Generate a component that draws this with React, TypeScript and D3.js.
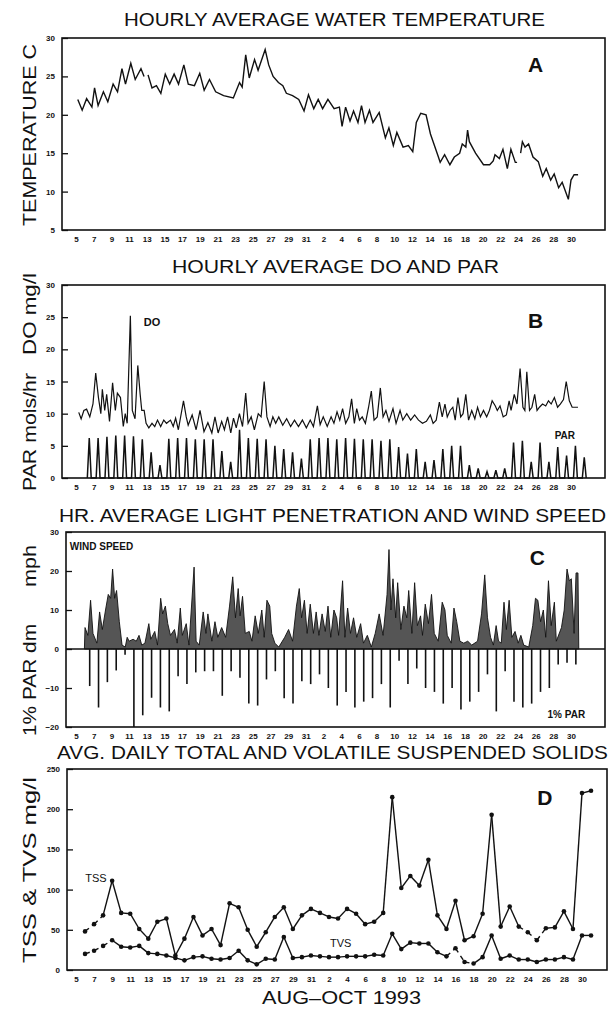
import React, { useEffect, useRef } from "react";
import * as d3 from "d3";

// days are counted as day of August (Sep 2 = 33, Oct 1 = 62)
const dayTicks = [5, 7, 9, 11, 13, 15, 17, 19, 21, 23, 25, 27, 29, 31, 33, 35, 37, 39, 41, 43, 45, 47, 49, 51, 53, 55, 57, 59, 61];

// A - hourly water temperature (NaN = gap in record)
const tempDay = [5.2, 5.7, 6.2, 6.8, 7.1, 7.5, 8.1, 8.6, 9.2, 9.7, 10.2, 10.6, 11.2, 11.7, 12.35, 12.7, 12.9, 13.15, 13.6, 14.1, 14.6, 15.1, 15.6, 16.1, 16.6, 17.2, 17.7, 18.4, 19.0, 19.5, 20.1, 20.8, 21.7, 22.8, 23.5, 23.8, 24.2, 24.6, 25.2, 25.6, 26.4, 26.8, 27.3, 27.9, 28.4, 28.8, 29.5, 30.2, 30.8, 31.3, 31.9, 32.4, 32.9, 33.5, 34.2, 34.8, 35.1, 35.5, 36.0, 36.4, 36.9, 37.3, 37.7, 38.2, 38.6, 39.3, 40.0, 40.4, 40.9, 41.3, 42.0, 42.6, 43.1, 43.5, 44.0, 44.6, 45.1, 46.0, 46.2, 46.7, 47.3, 47.8, 48.4, 48.7, 49.1, 49.3, 49.5, 50.2, 51.1, 51.8, 52.2, 52.4, 52.9, 53.3, 53.8, 54.2, 54.7, 54.9, 55.1, 55.3, 55.5, 55.8, 56.2, 56.7, 57.3, 57.8, 58.2, 58.7, 59.1, 59.6, 60.0, 60.7, 61.0, 61.35, 61.8];
const tempC = [22.0, 20.6, 22.1, 21.0, 23.5, 21.2, 23.0, 21.7, 24.0, 23.0, 26.0, 24.0, 26.7, 24.6, 26.0, 25.0, NaN, 25.2, 23.5, 23.8, 22.8, 25.3, 24.0, 25.3, 24.0, 26.5, 24.0, 23.8, 25.4, 23.2, 24.6, 23.0, 22.5, 22.2, 24.2, 23.6, 27.8, 24.8, 27.2, 25.8, 28.5, 26.5, 25.0, 24.2, 23.8, 22.8, 22.5, 22.0, 20.5, 22.6, 20.8, 22.0, 20.8, 22.0, 20.8, 21.0, 18.5, 21.0, 19.2, 20.5, 19.0, 21.2, 19.0, 20.6, 19.0, 20.3, 17.0, 18.3, 16.0, 17.7, 15.8, 16.0, 15.2, 19.0, 20.2, 20.0, 17.5, 14.5, 13.8, 14.8, 13.5, 14.5, 15.0, 16.2, 15.8, 18.0, 16.5, 15.0, 13.5, 13.5, 14.0, 14.8, 14.3, 15.5, 13.0, 15.5, 13.8, 13.8, NaN, 15.0, 16.5, 15.8, 16.2, 14.5, 13.9, 12.0, 13.0, 11.5, 12.3, 10.5, 11.2, 9.0, 11.5, 12.2, 12.2];

// B - hourly DO
const doDay = [5.31, 5.58, 5.89, 6.2, 6.56, 6.92, 7.23, 7.54, 7.81, 7.98, 8.25, 8.47, 8.79, 9.14, 9.45, 9.68, 10.03, 10.35, 10.57, 10.79, 11.15, 11.37, 11.68, 11.99, 12.26, 12.44, 12.71, 12.93, 13.24, 13.6, 13.91, 14.22, 14.58, 14.93, 15.24, 15.69, 16.0, 16.27, 16.58, 17.16, 17.47, 17.69, 18.14, 18.59, 19.03, 19.48, 19.92, 20.37, 20.72, 21.08, 21.48, 21.79, 22.15, 22.51, 22.82, 23.13, 23.49, 23.84, 24.2, 24.47, 24.82, 25.18, 25.62, 25.94, 26.29, 26.6, 26.96, 27.27, 27.59, 27.94, 28.39, 28.83, 29.28, 29.72, 30.17, 30.61, 31.06, 31.5, 31.86, 32.31, 32.62, 32.97, 33.42, 33.86, 34.18, 34.53, 34.84, 35.16, 35.51, 35.87, 36.18, 36.49, 36.76, 37.07, 37.38, 37.74, 38.1, 38.41, 38.72, 39.08, 39.43, 39.74, 40.06, 40.41, 40.86, 41.21, 41.66, 41.97, 42.42, 42.86, 43.31, 43.75, 44.2, 44.64, 45.09, 45.4, 45.75, 46.11, 46.43, 46.74, 47.0, 47.32, 47.63, 47.9, 48.21, 48.52, 48.79, 49.1, 49.41, 49.77, 50.12, 50.43, 50.75, 51.1, 51.46, 51.77, 52.08, 52.44, 52.66, 52.97, 53.33, 53.69, 54.0, 54.22, 54.58, 54.89, 55.24, 55.56, 55.78, 56.0, 56.31, 56.58, 56.89, 57.16, 57.43, 57.78, 58.14, 58.45, 58.76, 59.12, 59.48, 59.79, 60.15, 60.46, 60.81, 61.13, 61.79];
const doMg = [10.2, 9.2, 10.5, 10.7, 9.5, 11.5, 16.3, 12.5, 10.0, 13.8, 10.5, 13.0, 8.8, 14.8, 10.5, 13.2, 12.5, 8.0, 10.0, 8.5, 25.2, 10.5, 9.2, 17.5, 13.0, 10.5, 10.5, 8.5, 7.8, 8.5, 8.0, 9.0, 8.0, 9.0, 8.5, 9.0, 8.0, 9.3, 7.5, 12.0, 9.5, 8.2, 9.8, 7.5, 10.5, 7.2, 8.6, 7.0, 9.5, 7.0, 8.8, 7.5, 9.5, 7.0, 9.3, 7.8, 10.0, 8.0, 13.2, 8.5, 9.5, 7.5, 10.0, 9.5, 15.0, 9.5, 8.0, 9.5, 8.5, 9.5, 8.2, 9.2, 8.0, 9.0, 8.0, 9.0, 7.8, 9.0, 8.0, 11.2, 8.3, 9.5, 8.0, 9.5, 8.5, 10.3, 9.0, 10.8, 8.5, 9.5, 12.3, 8.5, 10.8, 9.0, 9.5, 8.5, 11.0, 13.5, 9.0, 9.5, 14.0, 9.5, 10.5, 8.8, 10.8, 8.5, 10.5, 9.0, 10.0, 9.0, 9.8, 9.0, 8.5, 8.8, 9.8, 8.5, 9.0, 11.8, 9.5, 11.5, 9.5, 10.5, 11.0, 9.0, 12.5, 9.5, 10.0, 13.0, 9.0, 10.5, 9.2, 11.0, 9.5, 10.5, 9.5, 10.5, 12.0, 11.2, 10.5, 11.2, 9.5, 9.8, 12.0, 10.5, 13.0, 11.5, 17.0, 11.0, 10.5, 16.5, 10.5, 11.0, 13.0, 10.5, 11.0, 11.5, 11.2, 12.0, 11.5, 12.5, 11.0, 11.5, 12.2, 15.0, 12.0, 11.0, 11.0];

// B - daily PAR peaks (mols/hr)
const parDay = [6, 7, 8, 9, 10, 11, 12, 13, 14, 15, 16, 17, 18, 19, 20, 21, 22, 23, 24, 25, 26, 27, 28, 29, 30, 31, 32, 33, 34, 35, 36, 37, 38, 39, 40, 41, 42, 43, 44, 45, 46, 47, 48, 49, 50, 51, 52, 53, 54, 55, 56, 57, 58, 59, 60, 61, 62];
const parMols = [6.2, 6.2, 6.4, 6.6, 6.6, 6.5, 6.0, 4.0, 2.0, 6.1, 6.2, 6.2, 6.0, 6.0, 6.0, 4.2, 2.5, 7.5, 6.2, 6.1, 6.0, 5.0, 4.5, 4.0, 3.0, 6.0, 6.2, 6.2, 6.0, 6.2, 6.1, 6.0, 6.0, 5.8, 6.0, 4.8, 3.8, 4.5, 2.5, 2.8, 4.5, 5.0, 5.0, 2.0, 1.5, 1.0, 1.2, 1.5, 5.5, 5.8, 2.5, 5.5, 2.5, 4.8, 3.5, 5.0, 3.2];

// C - hourly wind speed
const windDay = [5.95, 6.02, 6.34, 6.65, 6.92, 7.36, 7.67, 7.98, 8.34, 8.65, 8.92, 9.14, 9.37, 9.59, 9.9, 10.21, 10.57, 10.79, 11.01, 11.46, 11.82, 12.13, 12.44, 12.8, 13.24, 13.46, 13.91, 14.22, 14.58, 14.8, 15.11, 15.38, 15.69, 16.14, 16.45, 16.8, 17.03, 17.47, 17.78, 18.36, 18.59, 18.94, 19.39, 19.7, 19.92, 20.37, 20.72, 21.04, 21.48, 21.93, 22.37, 22.73, 23.04, 23.35, 23.57, 23.84, 24.15, 24.6, 24.91, 25.27, 25.62, 26.02, 26.29, 26.6, 26.92, 27.14, 27.5, 27.94, 28.61, 29.05, 29.5, 29.94, 30.26, 30.52, 30.84, 31.15, 31.5, 31.86, 32.17, 32.48, 32.84, 33.2, 33.51, 33.82, 34.18, 34.49, 34.71, 35.16, 35.42, 35.73, 36.05, 36.4, 36.76, 37.2, 37.52, 37.96, 38.41, 38.85, 39.3, 39.74, 40.19, 40.41, 40.63, 40.86, 41.17, 41.39, 41.75, 42.1, 42.42, 42.64, 43.0, 43.31, 43.62, 43.98, 44.2, 44.51, 44.87, 45.22, 45.53, 45.98, 46.43, 46.74, 47.0, 47.45, 47.76, 48.07, 48.43, 48.87, 49.32, 49.77, 50.43, 50.88, 51.24, 51.55, 51.9, 52.22, 52.53, 52.8, 53.11, 53.42, 53.69, 54.0, 54.31, 54.67, 55.02, 55.33, 55.65, 56.22, 56.67, 56.98, 57.25, 57.56, 57.87, 58.14, 58.45, 58.76, 59.12, 59.34, 59.92, 60.23, 60.55, 60.81, 61.04, 61.35, 61.57, 61.79, 61.88];
const windMph = [0, 5.5, 3.5, 12.5, 4.0, 1.5, 9.5, 5.0, 10.0, 14.0, 13.0, 20.5, 13.0, 15.0, 7.0, 1.0, 0.5, 3.0, 2.0, 2.5, 2.0, 3.5, 1.0, 1.5, 6.5, 2.5, 4.5, 1.0, 13.0, 9.0, 11.0, 6.5, 3.5, 5.0, 1.5, 10.5, 3.5, 6.5, 1.0, 21.0, 2.0, 1.0, 9.5, 4.0, 9.0, 2.0, 7.0, 3.0, 5.5, 3.0, 11.0, 18.5, 8.0, 15.5, 8.5, 13.5, 4.0, 4.5, 2.0, 8.5, 4.0, 10.0, 3.0, 12.5, 11.0, 4.0, 1.5, 0.5, 3.0, 5.0, 2.0, 11.0, 15.5, 8.0, 12.5, 4.0, 11.5, 4.0, 9.5, 3.5, 9.0, 4.5, 11.0, 3.0, 10.0, 8.0, 3.5, 17.5, 3.0, 10.5, 4.0, 8.0, 3.0, 6.5, 1.5, 3.5, 0.5, 4.0, 9.0, 3.5, 14.0, 25.5, 10.0, 18.0, 8.0, 17.0, 5.0, 11.0, 8.0, 15.0, 4.0, 17.0, 6.0, 8.5, 3.5, 11.5, 6.5, 14.0, 4.0, 2.0, 12.0, 10.0, 3.5, 1.5, 10.5, 7.0, 2.0, 1.5, 2.0, 1.0, 2.0, 9.0, 19.0, 8.0, 3.0, 1.0, 6.0, 2.0, 1.5, 12.0, 5.0, 12.5, 3.0, 4.5, 1.5, 3.5, 1.0, 0.5, 6.0, 13.0, 12.5, 7.0, 10.0, 3.0, 17.5, 6.0, 12.0, 2.0, 5.5, 10.0, 20.5, 17.5, 18.0, 4.0, 19.5, 19.5, 0];

// C - daily 1% PAR depth (dm, plotted downward)
const pctParDay = [6, 7, 8, 9, 10, 11, 12, 13, 14, 15, 16, 17, 18, 19, 20, 21, 22, 23, 24, 25, 26, 27, 28, 29, 30, 31, 32, 33, 34, 35, 36, 37, 38, 39, 40, 41, 42, 43, 44, 45, 46, 47, 48, 49, 50, 51, 52, 53, 54, 55, 56, 57, 58, 59, 60, 61];
const pctParDm = [-9.5, -15, -8.5, -5.5, -1.5, -20, -17, -12.5, -15, -16, -7, -9, -6, -5.7, -5.7, -12, -5.7, -7.4, -14, -14.5, -7.8, -5.7, -12.6, -14, -8.3, -9, -6.5, -10, -14.5, -11, -15, -13.5, -12.6, -9, -15, -3, -9, -5, -10, -11, -14, -10, -15.5, -13.5, -11, -6.5, -16, -5.7, -13.5, -15, -14, -11, -10, -4, -3.5, -4];

// D - daily suspended solids (mg/l)
const solidsDay = [6, 7, 8, 9, 10, 11, 12, 13, 14, 15, 16, 17, 18, 19, 20, 21, 22, 23, 24, 25, 26, 27, 28, 29, 30, 31, 32, 33, 34, 35, 36, 37, 38, 39, 40, 41, 42, 43, 44, 45, 46, 47, 48, 49, 50, 51, 52, 53, 54, 55, 56, 57, 58, 59, 60, 61, 62];
const tss = [48, 57, 68, 111, 71, 70, 51, 39, 60, 64, 18, 39, 66, 43, 51, 31, 83, 78, 50, 29, 47, 66, 78, 51, 68, 76, 71, 66, 64, 76, 70, 57, 60, 71, 215, 102, 117, 105, 137, 68, 51, 86, 37, 42, 70, 193, 54, 79, 54, 47, 37, 52, 53, 73, 51, 220, 223];
const tvs = [20, 24, 30, 37, 29, 28, 30, 21, 20, 18, 15, 12, 16, 17, 14, 13, 15, 24, 12, 7, 14, 13, 41, 15, 16, 18, 17, 16, 16, 17, 17, 17, 19, 18, 45, 26, 34, 33, 33, 22, 17, 27, 10, 8, 16, 43, 14, 18, 13, 13, 10, 13, 13, 16, 13, 43, 43];
// links drawn broken (start day of the link)
const tssBroken = [6, 7, 54, 55, 56];
const tvsBroken = [6, 7, 8, 46, 47, 48];

const FONT = "'Liberation Sans', Arial, Helvetica, sans-serif";

export default function App() {
  const ref = useRef<SVGSVGElement>(null);

  useEffect(() => {
    const svg = d3.select(ref.current);
    svg.selectAll("*").remove();
    svg.append("rect").attr("width", 613).attr("height", 1009).attr("fill", "white");

    const xABC = d3.scaleLinear().domain([5, 61]).range([76, 571]);
    const xD = d3.scaleLinear().domain([5, 61]).range([76, 582]);

    const frameA = { l: 62, r: 605, t: 38, b: 230 };
    const frameB = { l: 62, r: 605, t: 285, b: 478 };
    const frameC = { l: 66, r: 605, t: 532, b: 727 };
    const frameD = { l: 67, r: 607, t: 769, b: 970 };

    const yA = d3.scaleLinear().domain([5, 30]).range([frameA.b, frameA.t]);
    const yB = d3.scaleLinear().domain([0, 30]).range([frameB.b, frameB.t]);
    const yC = d3.scaleLinear().domain([-20, 30]).range([frameC.b, frameC.t]);
    const yD = d3.scaleLinear().domain([0, 250]).range([frameD.b, frameD.t]);

    function axes(x, y, f, yTicks) {
      const g = svg.append("g");
      g.append("g")
        .attr("transform", `translate(${f.l},0)`)
        .call(d3.axisLeft(y).tickValues(yTicks).tickSizeInner(-6).tickSizeOuter(0).tickPadding(7))
        .call((s) => s.select(".domain").remove());
      g.append("g")
        .attr("transform", `translate(0,${f.b})`)
        .call(
          d3.axisBottom(x).tickValues(dayTicks).tickSize(0).tickPadding(6)
            .tickFormat((d) => String(d > 31 ? d - 31 : d))
        )
        .call((s) => s.select(".domain").remove());
      g.selectAll("text")
        .attr("font-family", FONT)
        .attr("font-size", 8)
        .attr("font-weight", "bold")
        .attr("fill", "#111");
      g.selectAll("line").attr("stroke", "#111").attr("stroke-width", 1.3);
      svg.append("rect")
        .attr("x", f.l).attr("y", f.t)
        .attr("width", f.r - f.l).attr("height", f.b - f.t)
        .attr("fill", "none").attr("stroke", "#111").attr("stroke-width", 1.6);
    }

    function title(text, x1, x2, y, size = 18) {
      svg.append("text")
        .attr("x", x1).attr("y", y)
        .attr("textLength", x2 - x1).attr("lengthAdjust", "spacingAndGlyphs")
        .attr("font-family", FONT).attr("font-size", size).attr("fill", "#111")
        .text(text);
    }

    function yTitle(text, cy, len, x = 36) {
      svg.append("text")
        .attr("transform", `translate(${x},${cy}) rotate(-90)`)
        .attr("x", -len / 2)
        .attr("textLength", len).attr("lengthAdjust", "spacingAndGlyphs")
        .attr("font-family", FONT).attr("font-size", 18).attr("fill", "#111")
        .text(text);
    }

    function label(text, x, y, size, anchor = "middle", weight = "bold") {
      svg.append("text")
        .attr("x", x).attr("y", y).attr("text-anchor", anchor)
        .attr("font-family", FONT).attr("font-size", size).attr("font-weight", weight)
        .attr("fill", "#111").text(text);
    }

    // ---- Panel A
    title("HOURLY AVERAGE WATER TEMPERATURE", 124, 545, 26);
    axes(xABC, yA, frameA, [5, 10, 15, 20, 25, 30]);
    yTitle("TEMPERATURE C", 135, 182);
    const tempPts = tempDay.map((d, i) => [d, tempC[i]]);
    svg.append("path")
      .datum(tempPts)
      .attr("fill", "none").attr("stroke", "#111").attr("stroke-width", 1.4)
      .attr("d", d3.line().defined((p) => !isNaN(p[1])).x((p) => xABC(p[0])).y((p) => yA(p[1])));
    label("A", xABC(57), yA(25.6), 21);

    // ---- Panel B
    title("HOURLY AVERAGE DO AND PAR", 172, 499, 273);
    axes(xABC, yB, frameB, [0, 5, 10, 15, 20, 25, 30]);
    yTitle("DO mg/l", 314, 82);
    yTitle("PAR mols/hr", 432, 118);
    const parPts = [];
    parDay.forEach((d, i) => {
      parPts.push([d + 0.28, 0], [d + 0.5, parMols[i]], [d + 0.72, 0]);
    });
    svg.append("path")
      .datum(parPts)
      .attr("fill", "none").attr("stroke", "#111").attr("stroke-width", 1.5)
      .attr("d", d3.line().x((p) => xABC(p[0])).y((p) => yB(p[1])));
    svg.append("path")
      .datum(doDay.map((d, i) => [d, doMg[i]]))
      .attr("fill", "none").attr("stroke", "#111").attr("stroke-width", 1.2)
      .attr("d", d3.line().x((p) => xABC(p[0])).y((p) => yB(p[1])));
    label("B", xABC(57), yB(23.3), 21);
    label("DO", xABC(13.6), yB(23.6), 11);
    label("PAR", xABC(60.3), yB(6.1), 10);

    // ---- Panel C
    title("HR. AVERAGE LIGHT PENETRATION AND WIND SPEED", 59, 606, 522);
    axes(xABC, yC, frameC, [-20, -10, 0, 10, 20, 30]);
    yTitle("mph", 566, 42);
    yTitle("1% PAR dm", 680, 112);
    svg.append("path")
      .datum(windDay.map((d, i) => [d, windMph[i]]))
      .attr("fill", "#555").attr("stroke", "#111").attr("stroke-width", 0.9)
      .attr("d", d3.area().x((p) => xABC(p[0])).y0(yC(0)).y1((p) => yC(p[1])));
    svg.append("line")
      .attr("x1", frameC.l).attr("x2", frameC.r)
      .attr("y1", yC(0)).attr("y2", yC(0))
      .attr("stroke", "#111").attr("stroke-width", 1.6);
    svg.append("g")
      .selectAll("line")
      .data(pctParDay)
      .enter()
      .append("line")
      .attr("x1", (d) => xABC(d + 0.55)).attr("x2", (d) => xABC(d + 0.55))
      .attr("y1", yC(0)).attr("y2", (d, i) => yC(pctParDm[i]))
      .attr("stroke", "#111").attr("stroke-width", 1.6);
    label("WIND SPEED", xABC(4.3), yC(25.3), 10, "start");
    label("C", xABC(57.2), yC(21.5), 21);
    label("1% PAR", xABC(62.6), yC(-17.8), 10, "end");

    // ---- Panel D
    title("AVG. DAILY TOTAL AND VOLATILE SUSPENDED SOLIDS", 57, 608, 759);
    axes(xD, yD, frameD, [0, 50, 100, 150, 200, 250]);
    yTitle("TSS & TVS mg/l", 870, 186);
    title("AUG\u2013OCT 1993", 262, 421, 1004);

    function series(values, broken) {
      const g = svg.append("g");
      for (let i = 0; i < solidsDay.length - 1; i++) {
        const isBroken = broken.includes(solidsDay[i]);
        g.append("line")
          .attr("x1", xD(solidsDay[i])).attr("y1", yD(values[i]))
          .attr("x2", xD(solidsDay[i + 1])).attr("y2", yD(values[i + 1]))
          .attr("stroke", "#111").attr("stroke-width", 1.4)
          .attr("stroke-dasharray", isBroken ? "5,4" : null);
      }
      g.selectAll("circle")
        .data(values)
        .enter()
        .append("circle")
        .attr("cx", (d, i) => xD(solidsDay[i]))
        .attr("cy", (d) => yD(d))
        .attr("r", 2.3)
        .attr("fill", "#111");
    }
    series(tss, tssBroken);
    series(tvs, tvsBroken);
    label("TSS", xD(7.2), yD(110), 11, "middle", "normal");
    label("TVS", xD(34.3), yD(29), 11, "middle", "normal");
    label("D", xD(56.9), yD(205), 21);
  }, []);

  return (
    <svg
      ref={ref}
      width={613}
      height={1009}
      style={{ position: "absolute", left: 0, top: 0, display: "block" }}
    />
  );
}
